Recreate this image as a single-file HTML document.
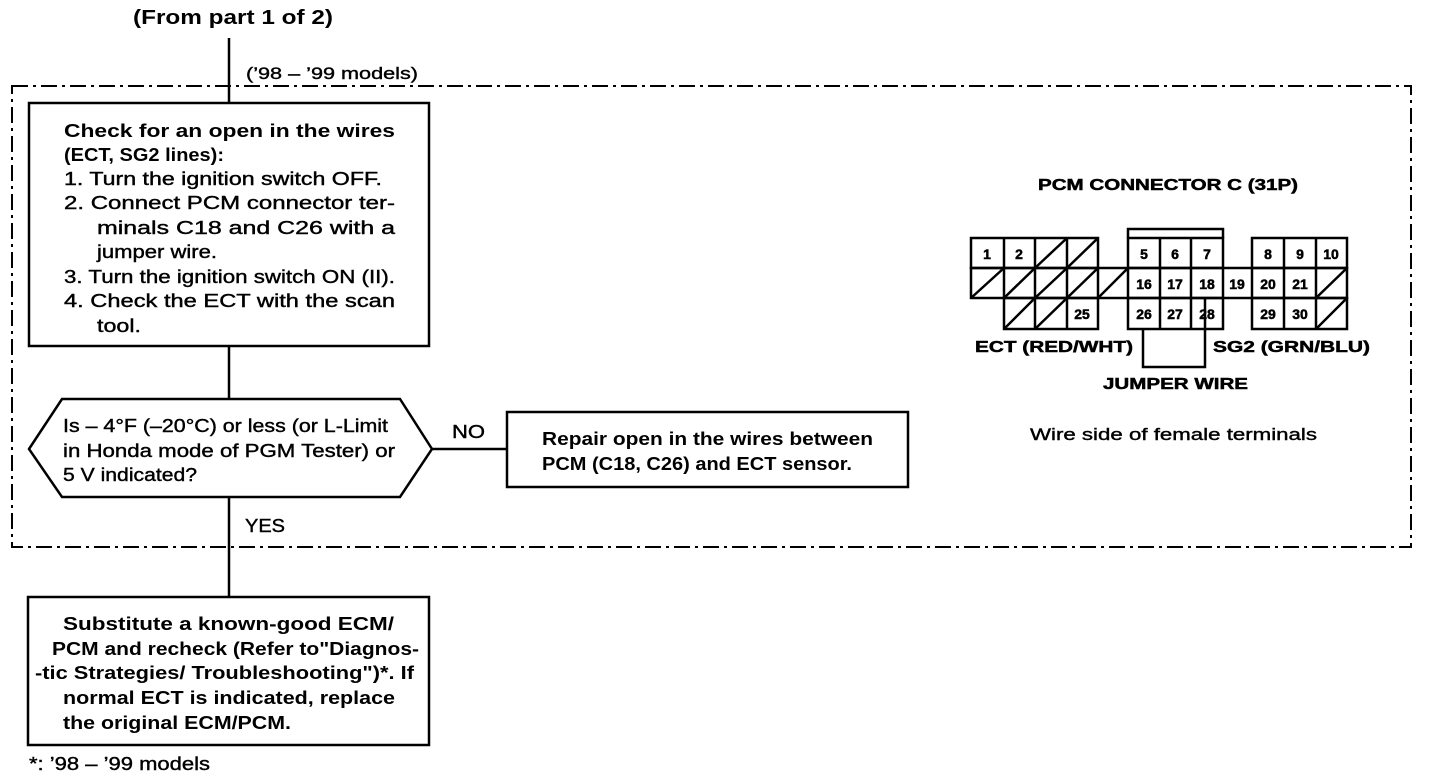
<!DOCTYPE html>
<html><head><meta charset="utf-8"><style>
html,body{margin:0;padding:0;background:#fff;}
svg{display:block;}
text{font-family:"Liberation Sans",Arial,sans-serif;fill:#000;}
.b{font-weight:bold;}
.h{stroke:#000;stroke-width:0.4;}
.hb{stroke:#000;stroke-width:0.5;}
</style></head><body>
<svg width="1440" height="782" viewBox="0 0 1440 782" xmlns="http://www.w3.org/2000/svg">
<rect x="12" y="86" width="1399" height="461" fill="none" stroke="#000" stroke-width="2" stroke-dasharray="16 5 3 5"/>
<g stroke="#000" stroke-width="2.5" fill="none">
<line x1="229" y1="38" x2="229" y2="103"/>
<line x1="229" y1="346" x2="229" y2="399"/>
<line x1="229" y1="497" x2="229" y2="597"/>
<line x1="432" y1="449" x2="507" y2="449"/>
<rect x="29" y="103" width="400" height="243"/>
<polygon points="29,449 62,399 400,399 432,449 400,497 62,497"/>
<rect x="507" y="412" width="401" height="75"/>
<rect x="28" y="597" width="401" height="148"/>
</g>
<text x="133" y="24" class="b" font-size="20" textLength="200" lengthAdjust="spacingAndGlyphs">(From part 1 of 2)</text>
<text x="246" y="79" class="h" font-size="17" textLength="172" lengthAdjust="spacingAndGlyphs">(’98 – ’99 models)</text>
<g font-size="18">
<text x="64" y="137" class="b" textLength="331" lengthAdjust="spacingAndGlyphs">Check for an open in the wires</text>
<text x="64" y="161" class="b" textLength="160" lengthAdjust="spacingAndGlyphs">(ECT, SG2 lines):</text>
<g class="h">
<text x="64" y="185" textLength="318" lengthAdjust="spacingAndGlyphs">1.  Turn the ignition switch OFF.</text>
<text x="64" y="209" textLength="331" lengthAdjust="spacingAndGlyphs">2.  Connect PCM connector ter-</text>
<text x="97" y="234" textLength="298" lengthAdjust="spacingAndGlyphs">minals C18 and C26 with a</text>
<text x="97" y="258" textLength="120" lengthAdjust="spacingAndGlyphs">jumper wire.</text>
<text x="64" y="283" textLength="331" lengthAdjust="spacingAndGlyphs">3.  Turn the ignition switch ON (II).</text>
<text x="64" y="307" textLength="331" lengthAdjust="spacingAndGlyphs">4.  Check the ECT with the scan</text>
<text x="97" y="332" textLength="44" lengthAdjust="spacingAndGlyphs">tool.</text>
</g>
</g>
<g font-size="18" class="h">
<text x="63" y="432" textLength="325" lengthAdjust="spacingAndGlyphs">Is – 4°F (–20°C) or less (or L-Limit</text>
<text x="63" y="457" textLength="332" lengthAdjust="spacingAndGlyphs">in Honda mode of PGM Tester) or</text>
<text x="63" y="481" textLength="134" lengthAdjust="spacingAndGlyphs">5 V indicated?</text>
<text x="452" y="438" textLength="33" lengthAdjust="spacingAndGlyphs">NO</text>
<text x="245" y="532" textLength="40" lengthAdjust="spacingAndGlyphs">YES</text>
</g>
<g font-size="18">
<text x="542" y="445" class="b" textLength="331" lengthAdjust="spacingAndGlyphs">Repair open in the wires between</text>
<text x="542" y="470" class="b" textLength="310" lengthAdjust="spacingAndGlyphs">PCM (C18, C26) and ECT sensor.</text>
</g>
<g font-size="18" class="b">
<text x="63" y="630" class="b" textLength="331" lengthAdjust="spacingAndGlyphs">Substitute a known-good ECM/</text>
<text x="52" y="655" class="b" textLength="367" lengthAdjust="spacingAndGlyphs">PCM and recheck (Refer to"Diagnos-</text>
<text x="35" y="679" class="b" textLength="379" lengthAdjust="spacingAndGlyphs">-tic Strategies/ Troubleshooting")*. If</text>
<text x="63" y="704" class="b" textLength="332" lengthAdjust="spacingAndGlyphs">normal ECT is indicated, replace</text>
<text x="63" y="729" class="b" textLength="228" lengthAdjust="spacingAndGlyphs">the original ECM/PCM.</text>
</g>
<text x="29" y="770" class="h" font-size="18" textLength="181" lengthAdjust="spacingAndGlyphs">*: ’98 – ’99 models</text>
<text x="1038" y="190" class="b hb" font-size="16" textLength="260" lengthAdjust="spacingAndGlyphs">PCM CONNECTOR C (31P)</text>
<g stroke="#000" stroke-width="2.5" fill="none">
<polyline points="1128,238 1128,229 1223,229 1223,238"/>
<rect x="971" y="238" width="127" height="30"/>
<line x1="1004" y1="238" x2="1004" y2="268"/><line x1="1035" y1="238" x2="1035" y2="268"/><line x1="1067" y1="238" x2="1067" y2="268"/>
<rect x="1128" y="238" width="95" height="30"/>
<line x1="1160" y1="238" x2="1160" y2="268"/><line x1="1191" y1="238" x2="1191" y2="268"/>
<rect x="1252" y="238" width="95" height="30"/>
<line x1="1284" y1="238" x2="1284" y2="268"/><line x1="1316" y1="238" x2="1316" y2="268"/>
<rect x="971" y="268" width="376" height="30"/>
<line x1="1004" y1="268" x2="1004" y2="298"/><line x1="1035" y1="268" x2="1035" y2="298"/><line x1="1067" y1="268" x2="1067" y2="298"/><line x1="1098" y1="268" x2="1098" y2="298"/>
<line x1="1128" y1="268" x2="1128" y2="298"/><line x1="1160" y1="268" x2="1160" y2="298"/><line x1="1191" y1="268" x2="1191" y2="298"/><line x1="1223" y1="268" x2="1223" y2="298"/>
<line x1="1252" y1="268" x2="1252" y2="298"/><line x1="1284" y1="268" x2="1284" y2="298"/><line x1="1316" y1="268" x2="1316" y2="298"/>
<rect x="1004" y="298" width="94" height="31"/>
<line x1="1035" y1="298" x2="1035" y2="329"/><line x1="1067" y1="298" x2="1067" y2="329"/>
<rect x="1128" y="298" width="95" height="31"/>
<line x1="1160" y1="298" x2="1160" y2="329"/><line x1="1191" y1="298" x2="1191" y2="329"/>
<rect x="1252" y="298" width="95" height="31"/>
<line x1="1284" y1="298" x2="1284" y2="329"/><line x1="1316" y1="298" x2="1316" y2="329"/>
<line x1="1035" y1="268" x2="1067" y2="238"/><line x1="1067" y1="268" x2="1098" y2="238"/>
<line x1="971" y1="298" x2="1004" y2="268"/><line x1="1004" y1="298" x2="1035" y2="268"/><line x1="1035" y1="298" x2="1067" y2="268"/><line x1="1067" y1="298" x2="1098" y2="268"/><line x1="1098" y1="298" x2="1128" y2="268"/>
<line x1="1316" y1="298" x2="1347" y2="268"/>
<line x1="1004" y1="329" x2="1035" y2="298"/><line x1="1035" y1="329" x2="1067" y2="298"/>
<line x1="1316" y1="329" x2="1347" y2="298"/>
<polyline points="1143,329 1143,367 1205,367 1205,298"/>
</g>
<g class="b hb" font-size="14" text-anchor="middle">
<text x="987" y="259">1</text><text x="1019" y="259">2</text>
<text x="1144" y="259">5</text><text x="1175" y="259">6</text><text x="1207" y="259">7</text>
<text x="1268" y="259">8</text><text x="1300" y="259">9</text><text x="1331" y="259">10</text>
<text x="1144" y="289">16</text><text x="1175" y="289">17</text><text x="1207" y="289">18</text><text x="1237" y="289">19</text>
<text x="1268" y="289">20</text><text x="1300" y="289">21</text>
<text x="1082" y="319">25</text>
<text x="1144" y="319">26</text><text x="1175" y="319">27</text><text x="1207" y="319">28</text>
<text x="1268" y="319">29</text><text x="1300" y="319">30</text>
</g>
<g class="b hb" font-size="16">
<text x="975" y="352" textLength="158" lengthAdjust="spacingAndGlyphs">ECT (RED/WHT)</text>
<text x="1213" y="352" textLength="157" lengthAdjust="spacingAndGlyphs">SG2 (GRN/BLU)</text>
<text x="1103" y="389" textLength="145" lengthAdjust="spacingAndGlyphs">JUMPER WIRE</text>
</g>
<text x="1030" y="440" class="h" font-size="17" textLength="287" lengthAdjust="spacingAndGlyphs">Wire side of female terminals</text>
</svg>
</body></html>
